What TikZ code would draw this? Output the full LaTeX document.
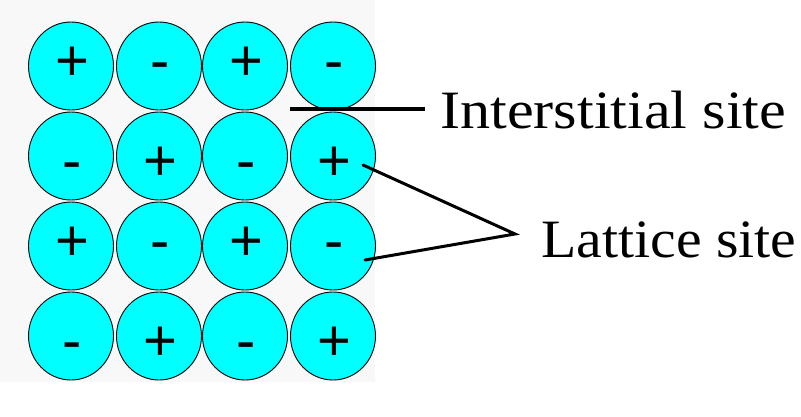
\documentclass[tikz,border=0pt]{standalone}
\usepackage{fontspec}
\usetikzlibrary{shapes.geometric}
\newfontfamily\signfont{Liberation Sans}
\newfontfamily\labelfont[FakeStretch=1.115]{Liberation Serif}
\newfontfamily\labelfontnarrow[FakeStretch=1.07]{Liberation Serif}
\definecolor{ioncyan}{HTML}{00FFFF}
\definecolor{panelgray}{HTML}{F8F8F8}
\begin{document}
\begin{tikzpicture}[x=1pt,y=-1pt,
  ion/.style={draw=black,line width=0.9pt,fill=ioncyan,ellipse,minimum width=85pt,minimum height=88pt,inner sep=0pt},
  sign/.style={anchor=base,inner sep=0pt,font=\signfont\fontsize{58}{58}\selectfont},
  sitelabel/.style={anchor=base west,inner sep=0pt,font=\labelfont\fontsize{54}{54}\selectfont},
  leader/.style={line width=3.5pt,line cap=butt},
  leaderthin/.style={line width=3pt,line cap=round,line join=miter}]
\useasboundingbox (0,0) rectangle (801,416);
\fill[panelgray] (0,0) rectangle (375,382);
% 4x4 grid of ions, alternating charge
\foreach \r/\cy/\sy in {1/66/63,2/156/163,3/246/243,4/336/343}{
  \foreach \c/\cx in {1/71,2/159,3/245,4/333}{
    \node[ion] (c\r\c) at (\cx,\cy) {};
    \pgfmathtruncatemacro{\chargeparity}{mod(\r+\c,2)}
    \ifnum\chargeparity=0
      \node[sign] (s\r\c) at (\cx+1,\sy+17.5) {+};
    \else
      \node[sign] (s\r\c) at (\cx+1,\sy+17) {-};
    \fi
  }
}
% labels
\node[sitelabel] (inter) at (440,128) {Interstitial site};
\node[sitelabel,font=\labelfontnarrow\fontsize{54}{54}\selectfont] (latt) at (541,257) {Lattice site};
% leader lines
\coordinate (gap) at (290,109);
\coordinate (gapend) at (425,109);
\coordinate (apex) at (515,234);
\coordinate (site24) at (363,165);
\coordinate (site34) at (365,260);
\draw[leader] (gap) -- (gapend);
\draw[leaderthin] (site24) -- (apex) -- (site34);
\end{tikzpicture}
\end{document}
